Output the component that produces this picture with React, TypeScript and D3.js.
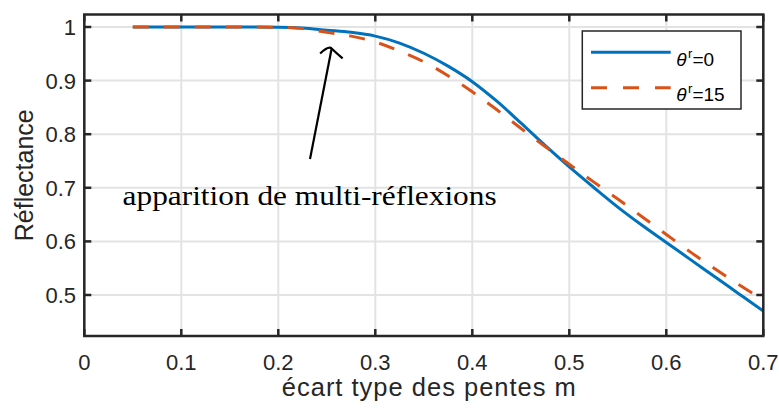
import React from "react";
import * as d3 from "d3";

const W = 779;
const H = 408;

// data
const mValues = [0.05, 0.1, 0.15, 0.2, 0.225, 0.25, 0.275, 0.3, 0.325, 0.35, 0.375, 0.4, 0.425, 0.45, 0.475, 0.5, 0.525, 0.55, 0.575, 0.6, 0.625, 0.65, 0.675, 0.7];
const refl0 = [1, 1, 1, 0.9995, 0.998, 0.994, 0.99, 0.983, 0.97, 0.951, 0.927, 0.898, 0.862, 0.821, 0.779, 0.739, 0.701, 0.664, 0.630, 0.598, 0.566, 0.534, 0.502, 0.47];
const refl15 = [1, 1, 1, 0.9995, 0.997, 0.99, 0.983, 0.972, 0.955, 0.935, 0.909, 0.879, 0.846, 0.811, 0.777, 0.744, 0.711, 0.679, 0.646, 0.613, 0.58, 0.549, 0.519, 0.491];
const xTicks = [0, 0.1, 0.2, 0.3, 0.4, 0.5, 0.6, 0.7];
const yTicks = [0.5, 0.6, 0.7, 0.8, 0.9, 1];
const seriesNames = ["0", "15"];
const annotationText = "apparition de multi-réflexions";
const arrowTail = [0.2327, 0.7537];
const arrowTip = [0.255, 0.96];
const annotationPos = [0.0395, 0.668];

const plot = { left: 84.3, right: 763.3, top: 14.5, bottom: 336 };
const axisColor = "#262626";
const gridColor = "#e3e3e3";
const blue = "#0072BD";
const red = "#D95319";
const sans = "'Liberation Sans', Arial, Helvetica, sans-serif";

export default function App() {
  const x = d3.scaleLinear().domain([0, 0.7]).range([plot.left, plot.right]);
  const y = d3.scaleLinear().domain([0.4235, 1.0233]).range([plot.bottom, plot.top]);

  const line = d3
    .line<[number, number]>()
    .x((d) => x(d[0]))
    .y((d) => y(d[1]))
    .curve(d3.curveMonotoneX);

  const d0 = line(mValues.map((m, i) => [m, refl0[i]] as [number, number])) || "";
  const d15 = line(mValues.map((m, i) => [m, refl15[i]] as [number, number])) || "";

  const tl = 7;
  const tipX = x(arrowTip[0]);
  const tipY = y(arrowTip[1]);

  const lg = { x: plot.right - 22.3 - 158.7, y: plot.top + 16.5, w: 158.7, h: 78 };

  return (
    <svg
      width={W}
      height={H}
      style={{ position: "absolute", left: 0, top: 0, background: "#fff" }}
    >
      <rect x={0} y={0} width={W} height={H} fill="#fff" />
      {/* grid */}
      {xTicks.map((t) => (
        <line key={"gx" + t} x1={x(t)} x2={x(t)} y1={plot.top} y2={plot.bottom} stroke={gridColor} strokeWidth={2} />
      ))}
      {yTicks.map((t) => (
        <line key={"gy" + t} x1={plot.left} x2={plot.right} y1={y(t)} y2={y(t)} stroke={gridColor} strokeWidth={2} />
      ))}

      {/* data */}
      <path d={d0} fill="none" stroke={blue} strokeWidth={3} />
      <path d={d15} fill="none" stroke={red} strokeWidth={3} strokeDasharray="16,15" />

      {/* annotation */}
      <text
        x={x(annotationPos[0])}
        y={y(annotationPos[1])}
        fontFamily="'Liberation Serif', 'Times New Roman', serif"
        fontSize={27}
        textLength={374}
        lengthAdjust="spacingAndGlyphs"
        fill="#000"
      >
        {annotationText}
      </text>
      <line x1={x(arrowTail[0])} y1={y(arrowTail[1])} x2={tipX} y2={tipY} stroke="#000" strokeWidth={2.2} />
      <path
        d={`M${tipX - 11.5},${tipY + 5} Q${tipX - 3},${tipY - 3} ${tipX},${tipY} Q${tipX + 3},${tipY + 3} ${tipX + 11},${tipY + 10}`}
        fill="none"
        stroke="#000"
        strokeWidth={2.2}
      />

      {/* axes box */}
      <rect
        x={plot.left}
        y={plot.top}
        width={plot.right - plot.left}
        height={plot.bottom - plot.top}
        fill="none"
        stroke={axisColor}
        strokeWidth={2.5}
      />
      {xTicks.map((t) => (
        <g key={"tx" + t}>
          <line x1={x(t)} x2={x(t)} y1={plot.bottom} y2={plot.bottom - tl} stroke={axisColor} strokeWidth={2.5} />
          <line x1={x(t)} x2={x(t)} y1={plot.top} y2={plot.top + tl} stroke={axisColor} strokeWidth={2.5} />
          <text x={x(t)} y={370} textAnchor="middle" fontFamily={sans} fontSize={22} fill={axisColor}>
            {String(t)}
          </text>
        </g>
      ))}
      {yTicks.map((t) => (
        <g key={"ty" + t}>
          <line x1={plot.left} x2={plot.left + tl} y1={y(t)} y2={y(t)} stroke={axisColor} strokeWidth={2.5} />
          <line x1={plot.right} x2={plot.right - tl} y1={y(t)} y2={y(t)} stroke={axisColor} strokeWidth={2.5} />
          <text x={76} y={y(t) + 8} textAnchor="end" fontFamily={sans} fontSize={22} fill={axisColor}>
            {String(t)}
          </text>
        </g>
      ))}

      {/* axis labels */}
      <text
        x={(plot.left + plot.right) / 2 + 5}
        y={396}
        textAnchor="middle"
        fontFamily={sans}
        fontSize={25.5}
        textLength={294}
        lengthAdjust="spacing"
        fill={axisColor}
      >
        écart type des pentes m
      </text>
      <text
        transform={`translate(33,${(plot.top + plot.bottom) / 2}) rotate(-90)`}
        textAnchor="middle"
        fontFamily={sans}
        fontSize={25}
        fill={axisColor}
      >
        Réflectance
      </text>

      {/* legend */}
      <rect x={lg.x} y={lg.y} width={lg.w} height={lg.h} fill="#fff" stroke={axisColor} strokeWidth={1.5} />
      {seriesNames.map((name, i) => {
        const ly = lg.y + 21.3 + i * 35.4;
        return (
          <g key={"lg" + name}>
            <line
              x1={lg.x + 8.7}
              x2={lg.x + 88.4}
              y1={ly}
              y2={ly}
              stroke={i === 0 ? blue : red}
              strokeWidth={3}
              strokeDasharray={i === 0 ? undefined : "16,16"}
            />
            <text x={lg.x + 94} y={ly + 13.5} fontFamily={sans} fontSize={19} fill="#000">
              <tspan fontStyle="italic">θ</tspan>
              <tspan fontSize={13} dy={-8} dx={1.5}>r</tspan>
              <tspan dy={8}>{"=" + name}</tspan>
            </text>
          </g>
        );
      })}
    </svg>
  );
}
